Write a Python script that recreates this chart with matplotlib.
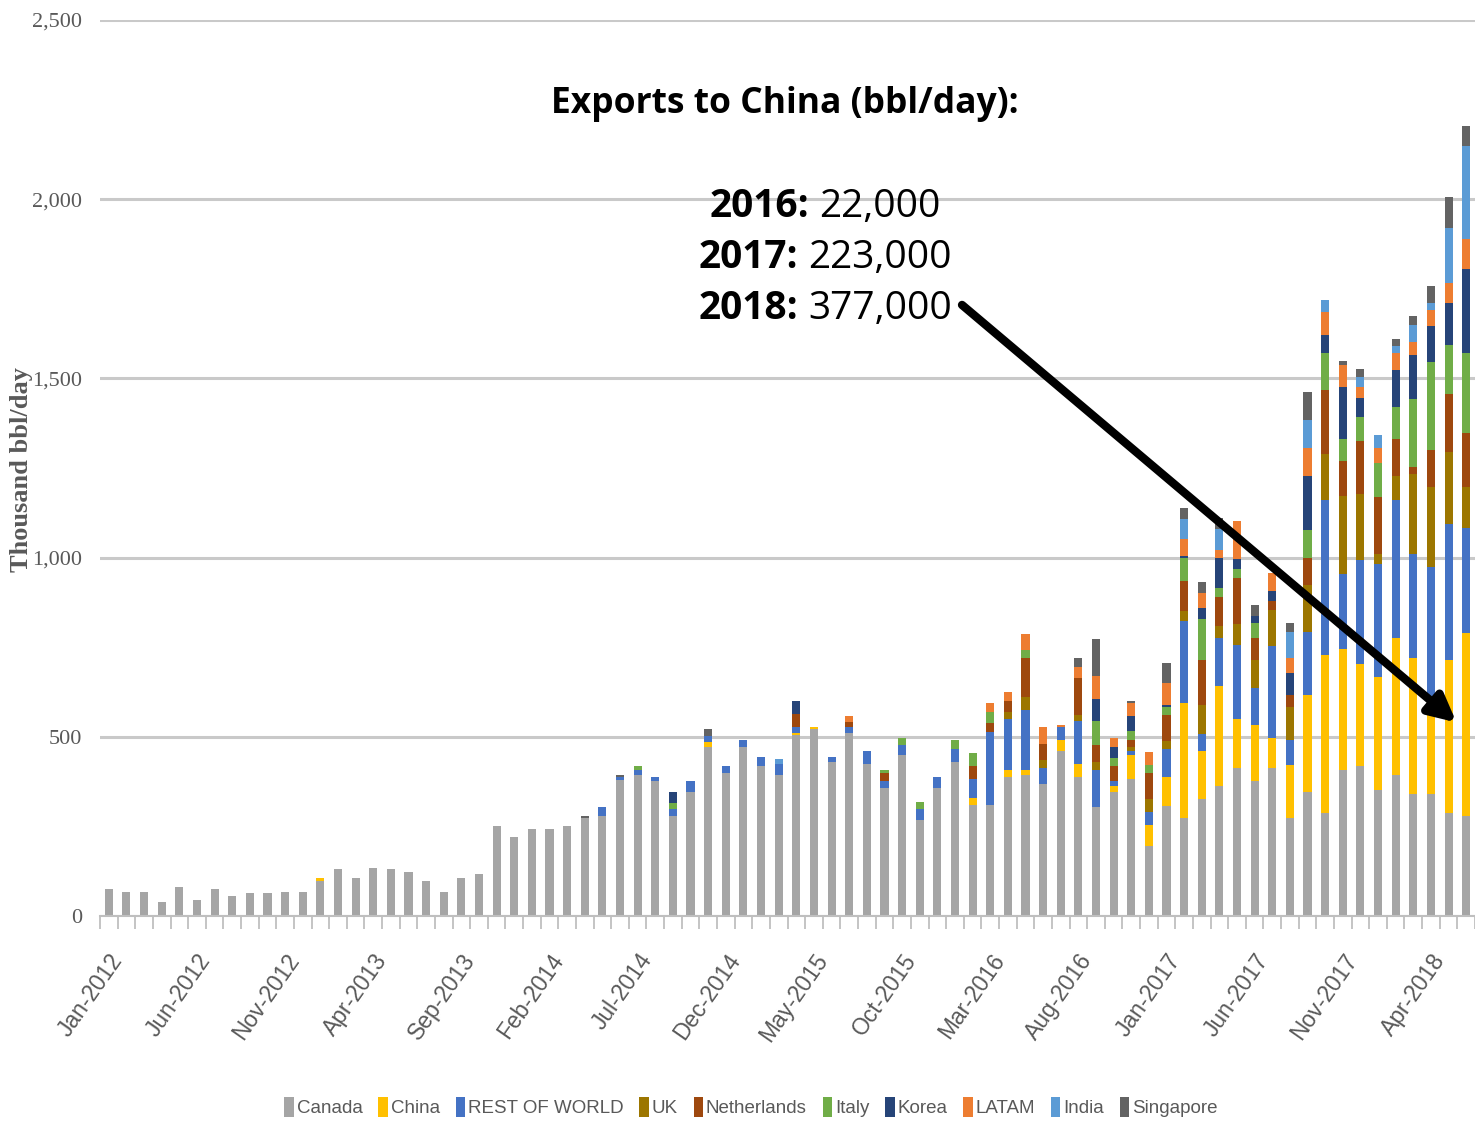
import matplotlib
matplotlib.use('Agg')
import matplotlib.pyplot as plt
import numpy as np
import pandas as pd
from matplotlib.patches import Patch

FIGURE_XSIZE = 14.75
FIGURE_YSIZE = 11.25
DPI = 100

GRID_RGB = '#C9C9C9'
TEXT_RGB = '#595959'
NARROW_FONT = ['Liberation Sans', 'DejaVu Sans']
SERIF_FONT = ['Liberation Serif', 'DejaVu Serif']
SANS_FONT = ['Open Sans', 'DejaVu Sans']

# monthly crude exports, thousand bbl/day, Jan-2012 .. Jun-2018
months = pd.date_range('2012-01-01', '2018-06-01', freq='MS').strftime('%b-%Y').tolist()

canada = [75, 68, 68, 38, 81, 45, 75, 57, 64, 64, 68, 68,
          99, 130, 106, 135, 130, 124, 99, 68, 106, 118, 250, 220,
          244, 244, 250, 273, 278, 380, 393, 376, 278, 345, 472, 400,
          472, 418, 394, 504, 521, 430, 510, 425, 358, 449, 267, 358,
          430, 309, 309, 387, 393, 369, 460, 388, 303, 346, 383, 194,
          308, 273, 327, 364, 413, 376, 412, 273, 345, 286, 406, 418,
          351, 393, 341, 341, 286, 278]
china = [0, 0, 0, 0, 0, 0, 0, 0, 0, 0, 0, 0,
         7, 0, 0, 0, 0, 0, 0, 0, 0, 0, 0, 0,
         0, 0, 0, 0, 0, 0, 0, 0, 0, 0, 13, 0,
         0, 0, 0, 6, 7, 0, 0, 0, 0, 0, 0, 0,
         0, 19, 0, 19, 14, 0, 31, 37, 0, 18, 66, 60,
         79, 320, 133, 278, 138, 157, 86, 147, 272, 442, 339, 285,
         315, 382, 379, 245, 428, 513]
rest_of_world = [0, 0, 0, 0, 0, 0, 0, 0, 0, 0, 0, 0,
                 0, 0, 0, 0, 0, 0, 0, 0, 0, 0, 0, 0,
                 0, 0, 0, 0, 26, 7, 13, 12, 21, 32, 17, 18,
                 19, 26, 30, 17, 0, 14, 18, 35, 19, 28, 32, 31,
                 36, 55, 205, 145, 168, 43, 36, 119, 103, 12, 12, 36,
                 78, 229, 49, 133, 205, 103, 254, 71, 175, 433, 210, 289,
                 315, 385, 291, 387, 381, 291]
uk = [0, 0, 0, 0, 0, 0, 0, 0, 0, 0, 0, 0,
      0, 0, 0, 0, 0, 0, 0, 0, 0, 0, 0, 0,
      0, 0, 0, 0, 0, 0, 0, 0, 0, 0, 0, 0,
      0, 0, 0, 0, 0, 0, 0, 0, 0, 0, 0, 0,
      0, 0, 0, 19, 36, 24, 0, 18, 23, 0, 11, 36,
      23, 30, 79, 35, 60, 78, 103, 91, 131, 127, 217, 186,
      29, 68, 222, 224, 199, 115]
netherlands = [0, 0, 0, 0, 0, 0, 0, 0, 0, 0, 0, 0,
               0, 0, 0, 0, 0, 0, 0, 0, 0, 0, 0, 0,
               0, 0, 0, 0, 0, 0, 0, 0, 0, 0, 0, 0,
               0, 0, 0, 36, 0, 0, 12, 0, 23, 0, 0, 0,
               0, 35, 24, 30, 108, 43, 0, 102, 49, 42, 20, 72,
               72, 84, 126, 79, 127, 61, 23, 35, 75, 181, 97, 146,
               158, 102, 19, 102, 163, 151]
italy = [0, 0, 0, 0, 0, 0, 0, 0, 0, 0, 0, 0,
         0, 0, 0, 0, 0, 0, 0, 0, 0, 0, 0, 0,
         0, 0, 0, 0, 0, 0, 12, 0, 17, 0, 0, 0,
         0, 0, 0, 0, 0, 0, 0, 0, 7, 19, 19, 0,
         24, 37, 30, 0, 24, 0, 0, 0, 65, 23, 23, 24,
         23, 62, 115, 25, 25, 42, 0, 0, 79, 101, 61, 67,
         96, 89, 191, 247, 137, 222]
korea = [0, 0, 0, 0, 0, 0, 0, 0, 0, 0, 0, 0,
         0, 0, 0, 0, 0, 0, 0, 0, 0, 0, 0, 0,
         0, 0, 0, 0, 0, 0, 0, 0, 31, 0, 0, 0,
         0, 0, 0, 37, 0, 0, 0, 0, 0, 0, 0, 0,
         0, 0, 0, 0, 0, 0, 0, 0, 62, 31, 42, 0,
         7, 6, 30, 84, 28, 19, 29, 60, 151, 50, 145, 54,
         0, 104, 121, 101, 115, 236]
latam = [0, 0, 0, 0, 0, 0, 0, 0, 0, 0, 0, 0,
         0, 0, 0, 0, 0, 0, 0, 0, 0, 0, 0, 0,
         0, 0, 0, 0, 0, 0, 0, 0, 0, 0, 0, 0,
         0, 0, 0, 0, 0, 0, 19, 0, 0, 0, 0, 0,
         0, 0, 26, 24, 44, 49, 7, 31, 66, 24, 36, 36,
         61, 48, 42, 23, 105, 0, 50, 43, 79, 66, 61, 30,
         42, 49, 37, 44, 56, 84]
india = [0, 0, 0, 0, 0, 0, 0, 0, 0, 0, 0, 0,
         0, 0, 0, 0, 0, 0, 0, 0, 0, 0, 0, 0,
         0, 0, 0, 0, 0, 0, 0, 0, 0, 0, 0, 0,
         0, 0, 13, 0, 0, 0, 0, 0, 0, 0, 0, 0,
         0, 0, 0, 0, 0, 0, 0, 0, 0, 0, 0, 0,
         0, 55, 0, 59, 0, 0, 0, 72, 77, 32, 0, 29,
         37, 19, 49, 19, 156, 259]
singapore = [0, 0, 0, 0, 0, 0, 0, 0, 0, 0, 0, 0,
             0, 0, 0, 0, 0, 0, 0, 0, 0, 0, 0, 0,
             0, 0, 0, 5, 0, 7, 0, 0, 0, 0, 20, 0,
             0, 0, 0, 0, 0, 0, 0, 0, 0, 0, 0, 0,
             0, 0, 0, 0, 0, 0, 0, 25, 103, 0, 7, 0,
             55, 31, 31, 30, 0, 31, 0, 26, 79, 0, 12, 21,
             0, 19, 23, 49, 84, 55]

series_names = ['Canada', 'China', 'REST OF WORLD', 'UK', 'Netherlands',
                'Italy', 'Korea', 'LATAM', 'India', 'Singapore']
series_values = [canada, china, rest_of_world, uk, netherlands,
                 italy, korea, latam, india, singapore]
series_colors = ['#A5A5A5', '#FFC000', '#4472C4', '#9C7600', '#9E480E',
                 '#70AD47', '#264478', '#ED7D31', '#5B9BD5', '#636363']

yearly_labels = ['2016:', '2017:', '2018:']
yearly_china = ['22,000', '223,000', '377,000']


def set_axis_properties(axes):
    for side in ('left', 'right', 'top'):
        axes.spines[side].set_visible(False)
    axes.spines['bottom'].set_color('#BFBFBF')
    axes.spines['bottom'].set_linewidth(1.5)

    axes.set_ylim(0, 2500)
    axes.set_yticks(np.arange(0, 2501, 500))
    axes.yaxis.set_major_formatter(matplotlib.ticker.StrMethodFormatter('{x:,.0f}'))
    axes.tick_params(axis='y', length=0, pad=13, labelsize=16, labelcolor=TEXT_RGB)
    for label in axes.get_yticklabels():
        label.set_family(SERIF_FONT)
    axes.yaxis.grid(True, color=GRID_RGB, linewidth=2.2)
    axes.set_axisbelow(True)

    n = len(months)
    axes.set_xlim(-0.5, n - 0.55)
    axes.set_xticks(np.arange(0, n, 5))
    axes.set_xticklabels(months[::5], rotation=55, ha='right', va='top',
                         rotation_mode='anchor', fontsize=16.5, color=TEXT_RGB,
                         family=NARROW_FONT)
    axes.set_xticks(np.arange(-0.5, n, 1), minor=True)
    axes.tick_params(axis='x', which='major', length=0, pad=24)
    axes.tick_params(axis='x', which='minor', length=9, width=1.3, color='#BFBFBF')


def draw_yearly_lines(figure):
    renderer = figure.canvas.get_renderer()
    center_x = 825
    baselines = [217, 268, 319]
    for year, value, base in zip(yearly_labels, yearly_china, baselines):
        y = 1 - base / (FIGURE_YSIZE * DPI)
        t1 = figure.text(0, y, year, fontsize=28, weight='bold', family=SANS_FONT,
                         ha='left', va='baseline')
        t2 = figure.text(0, y, value, fontsize=28, family=SANS_FONT,
                         ha='left', va='baseline')
        w1 = t1.get_window_extent(renderer).width
        w2 = t2.get_window_extent(renderer).width
        gap = 10
        left = center_x - (w1 + gap + w2) / 2
        t1.set_x(left / (FIGURE_XSIZE * DPI))
        t2.set_x((left + w1 + gap) / (FIGURE_XSIZE * DPI))


def main():
    figure = plt.figure(figsize=(FIGURE_XSIZE, FIGURE_YSIZE), dpi=DPI, facecolor='white')
    W, H = FIGURE_XSIZE * DPI, FIGURE_YSIZE * DPI
    axes = figure.add_axes([100 / W, 1 - 916 / H, 1375 / W, 896 / H])
    set_axis_properties(axes)

    x = np.arange(len(months))
    bottom = np.zeros(len(months))
    for name, values, color in zip(series_names, series_values, series_colors):
        values = np.array(values, dtype=float)
        axes.bar(x, values, width=0.46, bottom=bottom, color=color, label=name,
                 linewidth=0)
        bottom += values

    figure.text(22 / W, 1 - 470 / H, 'Thousand bbl/day', rotation=90, ha='center',
                va='center', fontsize=19, weight='bold', color=TEXT_RGB,
                family=SERIF_FONT)

    figure.text(785 / W, 1 - 113 / H, 'Exports to China (bbl/day):', ha='center',
                va='baseline', fontsize=25.5, weight='bold', family=SANS_FONT)
    draw_yearly_lines(figure)

    # arrow from the 2018 figure down to the latest China bars
    axes.annotate('', xy=(76.45, 540), xytext=(48.4, 1705),
                  arrowprops=dict(arrowstyle='-|>,head_length=1.6,head_width=0.8',
                                  color='black', lw=6, shrinkA=0, shrinkB=0))

    handles = [Patch(facecolor=c, edgecolor='none') for c in series_colors]
    figure.legend(handles, series_names, loc='center', bbox_to_anchor=(751 / W, 1 - 1107 / H),
                  ncol=10, frameon=False, handlelength=0.5, handleheight=1.3,
                  handletextpad=0.15, columnspacing=0.85, borderaxespad=0,
                  prop={'family': NARROW_FONT, 'size': 13.5}, labelcolor=TEXT_RGB)

    figure.savefig('out.png', dpi=DPI)


if __name__ == '__main__':
    main()
